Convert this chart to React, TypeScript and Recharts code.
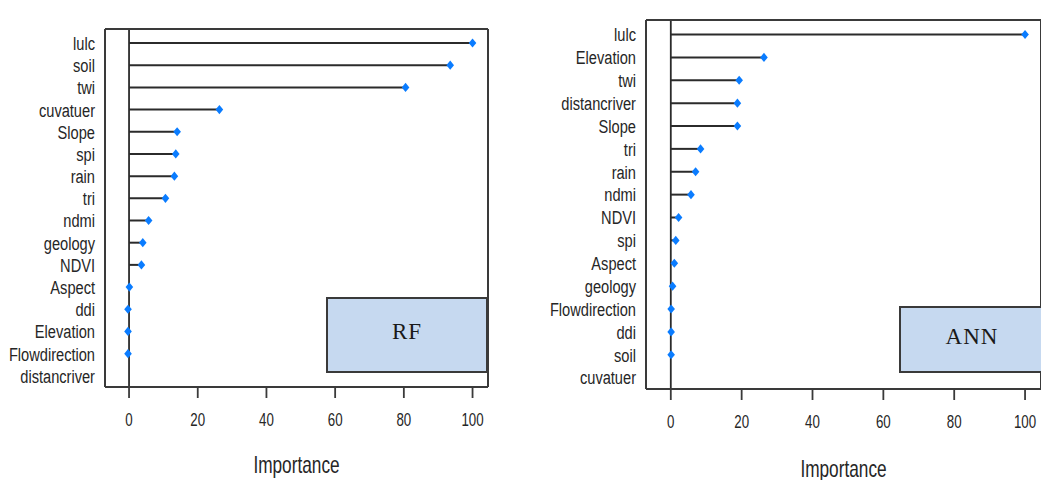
import React from "react";
import {
  BarChart,
  Bar,
  XAxis,
  YAxis,
  ReferenceLine,
} from "recharts";

// RF variable importance (top to bottom)
const rfVariables = [
  "lulc", "soil", "twi", "cuvatuer", "Slope", "spi", "rain", "tri",
  "ndmi", "geology", "NDVI", "Aspect", "ddi", "Elevation", "Flowdirection", "distancriver",
];
const rfImportance = [
  100, 93.5, 80.5, 26.3, 14.0, 13.6, 13.2, 10.6,
  5.7, 4.0, 3.6, 0.1, -0.3, -0.3, -0.3, null,
];

// ANN variable importance (top to bottom)
const annVariables = [
  "lulc", "Elevation", "twi", "distancriver", "Slope", "tri", "rain", "ndmi",
  "NDVI", "spi", "Aspect", "geology", "Flowdirection", "ddi", "soil", "cuvatuer",
];
const annImportance = [
  100, 26.3, 19.3, 18.8, 18.8, 8.4, 7.0, 5.7,
  2.2, 1.4, 1.0, 0.5, 0.1, 0.1, 0.1, null,
];

const xTicks = [0, 20, 40, 60, 80, 100];
const xDomain: [number, number] = [-7, 104.5];

const FONT = "'Liberation Sans', Arial, sans-serif";
const FRAME = "#3a3a3a";
const TEXT = "#262626";
const SQUEEZE = 0.77; // the source figure's text is horizontally condensed

const Lollipop = (props: any) => {
  const { x, y, width, height, payload } = props;
  if (payload.value == null) return null;
  const cy = y + height / 2;
  const end = x + width;
  return (
    <g>
      <line x1={x} y1={cy} x2={end} y2={cy} stroke="#2b2b2b" strokeWidth={2} />
      <path
        d={`M${end - 3.8},${cy} L${end},${cy - 4.6} L${end + 3.8},${cy} L${end},${cy + 4.6} Z`}
        fill="#0a7cff"
      />
    </g>
  );
};

const NameTick = (props: any) => {
  const { x, y, payload } = props;
  return (
    <g transform={`translate(${x},${y}) scale(${SQUEEZE},1)`}>
      <text x={0} y={0} dy="0.36em" textAnchor="end" fill={TEXT} fontSize={19} fontFamily={FONT}>
        {payload.value}
      </text>
    </g>
  );
};

const NumTick = (props: any) => {
  const { x, y, payload } = props;
  return (
    <g transform={`translate(${x},${y}) scale(0.74,1)`}>
      <text x={0} y={0} dy="0.71em" textAnchor="middle" fill={TEXT} fontSize={18} fontFamily={FONT}>
        {payload.value}
      </text>
    </g>
  );
};

const axisTitle = (offset: number) => (props: any) => {
  const { x, y, width, height } = props.viewBox;
  return (
    <g transform={`translate(${x + width / 2},${y + height - offset}) scale(0.75,1)`}>
      <text x={0} y={0} textAnchor="middle" fill={TEXT} fontSize={23} fontFamily={FONT}>
        Importance
      </text>
    </g>
  );
};

type PanelProps = {
  names: string[];
  values: (number | null)[];
  left: number;
  width: number;
  yAxisWidth: number;
  rightMargin: number;
  topHeight: number;
  bottomHeight: number;
  labelOffset: number;
  tag: string;
  tagBox: { left: number; top: number; width: number; height: number };
};

function Panel({
  names, values, left, width, yAxisWidth, rightMargin, topHeight, bottomHeight, labelOffset, tag, tagBox,
}: PanelProps) {
  const data = names.map((name, i) => ({ name, value: values[i] }));
  return (
    <div style={{ position: "absolute", left, top: 0, width, height: 480 }}>
      <BarChart
        width={width}
        height={480}
        data={data}
        layout="vertical"
        margin={{ top: 0, right: rightMargin, bottom: 0, left: 0 }}
        barCategoryGap={0}
      >
        <XAxis
          xAxisId="top"
          orientation="top"
          type="number"
          domain={xDomain}
          ticks={xTicks}
          allowDataOverflow
          height={topHeight}
          tickSize={12}
          tick={false}
          axisLine={{ stroke: FRAME, strokeWidth: 2 }}
          tickLine={{ stroke: FRAME, strokeWidth: 1.8 }}
        />
        <XAxis
          xAxisId="b"
          orientation="bottom"
          type="number"
          domain={xDomain}
          ticks={xTicks}
          allowDataOverflow
          height={bottomHeight}
          tickSize={11}
          tickMargin={15}
          axisLine={{ stroke: FRAME, strokeWidth: 2 }}
          tickLine={{ stroke: FRAME, strokeWidth: 1.8 }}
          tick={<NumTick />}
          label={{ content: axisTitle(labelOffset) }}
        />
        <YAxis
          type="category"
          dataKey="name"
          width={yAxisWidth}
          padding={{ top: 3, bottom: 0 }}
          interval={0}
          tickSize={0}
          tickMargin={10}
          tickLine={false}
          axisLine={{ stroke: FRAME, strokeWidth: 2 }}
          tick={<NameTick />}
        />
        <ReferenceLine xAxisId="b" x={0} stroke="#2b2b2b" strokeWidth={1.8} zIndex={100} />
        <ReferenceLine xAxisId="b" x={xDomain[1]} stroke={FRAME} strokeWidth={2} zIndex={100} />
        <Bar
          xAxisId="b"
          dataKey="value"
          isAnimationActive={false}
          shape={Lollipop}
          zIndex={1000}
        />
      </BarChart>
      <div
        style={{
          position: "absolute",
          left: tagBox.left - left,
          top: tagBox.top,
          width: tagBox.width,
          height: tagBox.height,
          boxSizing: "border-box",
          background: "#c6d9f0",
          border: `2px solid ${FRAME}`,
          display: "flex",
          alignItems: "center",
          justifyContent: "center",
          fontFamily: "'Liberation Serif', 'Times New Roman', serif",
          fontSize: 23,
          letterSpacing: 1,
          color: "#1a1a1a",
          paddingBottom: 6,
        }}
      >
        {tag}
      </div>
    </div>
  );
}

export default function App() {
  return (
    <div style={{ position: "absolute", left: 0, top: 0, width: 1041, height: 480, background: "#fff", overflow: "hidden" }}>
      <Panel
        names={rfVariables}
        values={rfImportance}
        left={0}
        width={520}
        yAxisWidth={105}
        rightMargin={32}
        topHeight={29}
        bottomHeight={93}
        labelOffset={7}
        tag="RF"
        tagBox={{ left: 326, top: 297, width: 162, height: 76 }}
      />
      <Panel
        names={annVariables}
        values={annImportance}
        left={530}
        width={511}
        yAxisWidth={116}
        rightMargin={0}
        topHeight={20}
        bottomHeight={91}
        labelOffset={3}
        tag="ANN"
        tagBox={{ left: 899, top: 306, width: 146, height: 67 }}
      />
    </div>
  );
}
